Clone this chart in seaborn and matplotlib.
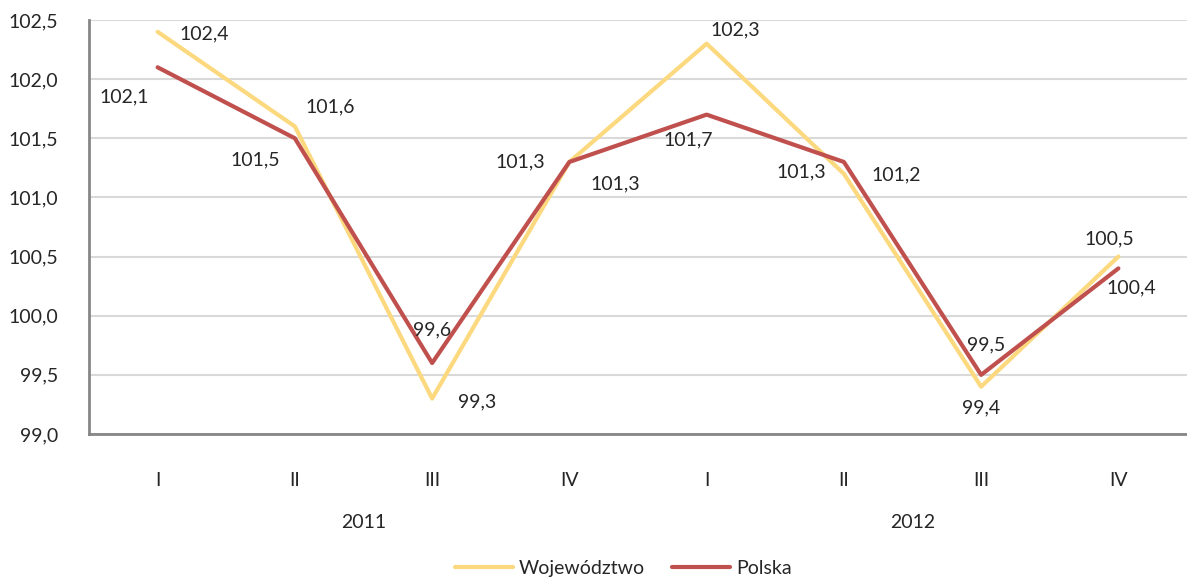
import pandas as pd
import matplotlib
matplotlib.use("Agg")
import matplotlib.pyplot as plt
import matplotlib.transforms as mtransforms
import seaborn as sns

# Data
quarters = ["I", "II", "III", "IV", "I", "II", "III", "IV"]
years = ["2011", "2012"]
wojewodztwo = [102.4, 101.6, 99.3, 101.3, 102.3, 101.2, 99.4, 100.5]
polska = [102.1, 101.5, 99.6, 101.3, 101.7, 101.3, 99.5, 100.4]

# label offsets in pixels (dx, dy)
woj_offsets = [(47, -2), (35, 20), (45, -3), (46, -22), (29, 14), (52, -1), (0, -21), (-9, 18)]
pol_offsets = [(-33, -30), (-40, -22), (0, 33), (-49, 0), (-18, -25), (-43, -10), (5, 30), (13, -19)]

df = pd.DataFrame({
    "pos": list(range(len(quarters))) * 2,
    "value": wojewodztwo + polska,
    "series": ["Województwo"] * len(quarters) + ["Polska"] * len(quarters),
})

sns.set_style("white")
plt.rcParams["font.family"] = ["Lato", "DejaVu Sans"]
FS = 14

colors = {"Województwo": "#FCD97E", "Polska": "#C0504D"}

fig = plt.figure(figsize=(11.87, 5.79), dpi=100)
ax = fig.add_axes([89 / 1187, 1 - 434 / 579, 1 - 89 / 1187, 414 / 579])

sns.lineplot(data=df, x="pos", y="value", hue="series", palette=colors,
             linewidth=3, ax=ax, legend=False, sort=False)

ax.set_xlim(-0.5, len(quarters) - 0.5)
ax.set_ylim(99.0, 102.5)
yt = [99.0 + 0.5 * i for i in range(8)]
ax.set_yticks(yt)
ax.set_yticklabels([f"{v:.1f}".replace(".", ",") for v in yt], fontsize=FS)
ax.set_xticks(range(len(quarters)))
ax.set_xticklabels(quarters, fontsize=FS)
ax.set_xticks([i - 0.5 for i in range(len(quarters) + 1)], minor=True)
ax.tick_params(axis="x", which="major", length=0, pad=27)
ax.tick_params(axis="x", which="minor", length=6, width=1.5, color="#868686")
ax.tick_params(axis="y", length=0, pad=22)
ax.set_xlabel("")
ax.set_ylabel("")

ax.grid(axis="y", color="#D9D9D9", linewidth=1.5)
ax.set_axisbelow(True)
for s in ["top", "right"]:
    ax.spines[s].set_visible(False)
for s in ["left", "bottom"]:
    ax.spines[s].set_color("#868686")
    ax.spines[s].set_linewidth(2)

# data labels
for vals, offs in [(wojewodztwo, woj_offsets), (polska, pol_offsets)]:
    for i, (v, (dx, dy)) in enumerate(zip(vals, offs)):
        ax.annotate(f"{v:.1f}".replace(".", ","), (i, v), xytext=(dx, dy),
                    textcoords="offset pixels", ha="center", va="center", fontsize=FS)

# year labels
trans = mtransforms.blended_transform_factory(ax.transData, ax.transAxes)
for k, yr in enumerate(years):
    ax.text(1.5 + 4 * k, -0.2126, yr, transform=trans, ha="center", va="center", fontsize=FS)

# legend
handles = [plt.Line2D([], [], color=colors[s], linewidth=3) for s in ["Województwo", "Polska"]]
fig.legend(handles, ["Województwo", "Polska"], loc="center", bbox_to_anchor=(0.525, 0.018),
           ncol=2, frameon=False, fontsize=FS, handlelength=3, columnspacing=1.4,
           handletextpad=0.3)

fig.savefig("out.png", dpi=100)
